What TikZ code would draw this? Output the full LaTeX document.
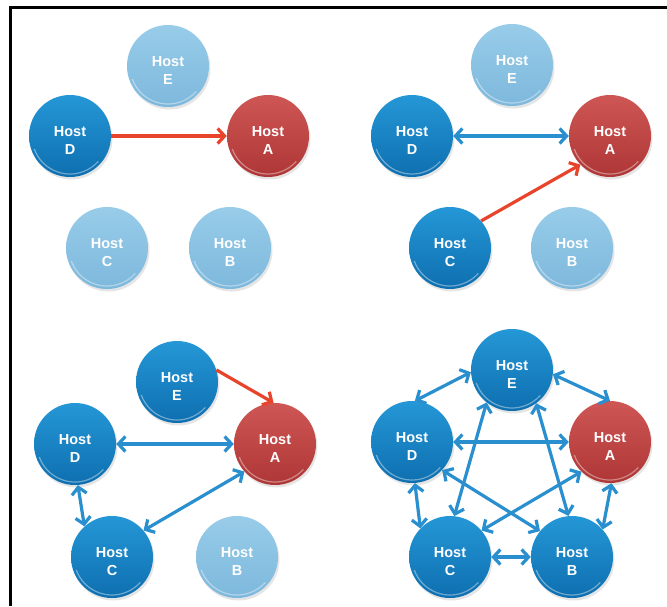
\documentclass[tikz,border=0pt]{standalone}
\usepackage{fontspec}
\setmainfont{Liberation Sans}
\usetikzlibrary{arrows.meta}

\definecolor{hostblueT}{HTML}{2597D6}
\definecolor{hostblueB}{HTML}{0E6FB0}
\definecolor{hostpaleT}{HTML}{98CCE9}
\definecolor{hostpaleB}{HTML}{7DB8DC}
\definecolor{hostredT}{HTML}{CE5654}
\definecolor{hostredB}{HTML}{AE3636}
\definecolor{linkblue}{HTML}{2A8FCE}
\definecolor{linkred}{HTML}{E8442C}

\tikzset{
  hostball/.style={circle, minimum size=82pt, inner sep=0pt, draw=none,
    preaction={fill=black, fill opacity=.10, transform canvas={xshift=1.5pt,yshift=-2.5pt}},
    path picture={\draw[white, draw opacity=.4, line width=1.2pt]
      ([shift={(200:38pt)}]path picture bounding box.center)
      arc[start angle=200, end angle=318, radius=38pt];}},
  active/.style={top color=hostblueT, bottom color=hostblueB},
  idle/.style={top color=hostpaleT, bottom color=hostpaleB},
  target/.style={top color=hostredT, bottom color=hostredB},
  hostlabel/.style={text=white, font=\fontsize{14.5}{18}\selectfont\bfseries,
    align=center, inner sep=0pt},
  tip/.tip={Straight Barb[length=7pt,width=15pt]},
  twoway/.style={draw=linkblue, line width=3.2pt, tip-tip},
  oneway/.style={draw=linkred, line width=3.2pt, -tip},
}

% host circle with its two-line caption
\newcommand\hostat[4]{%
  \node[hostball, #3] (#1) at (#2) {};
  \node[hostlabel] (#1-label) at ([yshift=-5pt]#1.center) {Host\\#4};
}

\begin{document}
\begin{tikzpicture}[x=1pt, y=1pt]
\useasboundingbox (0,0) rectangle (667,-606);
\fill[white] (0,0) rectangle (667,-606);
\draw[line width=3pt] (10.5,-606) -- (10.5,-7.5) -- (667,-7.5);

% first step: D contacts A
\hostat{p1E}{168,-66}{idle}{E}
\hostat{p1D}{70,-136}{active}{D}
\hostat{p1A}{268,-136}{target}{A}
\hostat{p1C}{107,-248}{idle}{C}
\hostat{p1B}{230,-248}{idle}{B}
\draw[oneway] (p1D.0) -- (p1A.180);

% second step: C joins
\hostat{p2E}{512,-65}{idle}{E}
\hostat{p2D}{412,-136}{active}{D}
\hostat{p2A}{610,-136}{target}{A}
\hostat{p2C}{450,-248}{active}{C}
\hostat{p2B}{572,-248}{idle}{B}
\draw[twoway] (p2D.0) -- (p2A.180);
\draw[oneway] (p2C.41) -- (p2A.224);

% third step: E joins
\hostat{p3E}{177,-382}{active}{E}
\hostat{p3D}{75,-444}{active}{D}
\hostat{p3A}{275,-444}{target}{A}
\hostat{p3C}{112,-557}{active}{C}
\hostat{p3B}{237,-557}{idle}{B}
\draw[twoway] (p3D.0) -- (p3A.180);
\draw[twoway] (p3D.274) -- (p3C.132);
\draw[twoway] (p3C.40) -- (p3A.222);
\draw[oneway] (p3E.17) -- (p3A.92);

% full mesh
\hostat{p4E}{512,-370}{active}{E}
\hostat{p4D}{412,-442}{active}{D}
\hostat{p4A}{610,-442}{target}{A}
\hostat{p4C}{450,-557}{active}{C}
\hostat{p4B}{572,-557}{active}{B}
\draw[twoway] (p4E.183) -- (p4D.86);
\draw[twoway] (p4E.354) -- (p4A.90);
\draw[twoway] (p4D.0) -- (p4A.180);
\draw[twoway] (p4D.274) -- (p4C.136);
\draw[twoway] (p4A.272) -- (p4B.42);
\draw[twoway] (p4C.0) -- (p4B.180);
\draw[twoway] (p4E.232) -- (p4C.84);
\draw[twoway] (p4E.306) -- (p4B.95);
\draw[twoway] (p4D.317) -- (p4B.141);
\draw[twoway] (p4A.226) -- (p4C.40);
\end{tikzpicture}
\end{document}
